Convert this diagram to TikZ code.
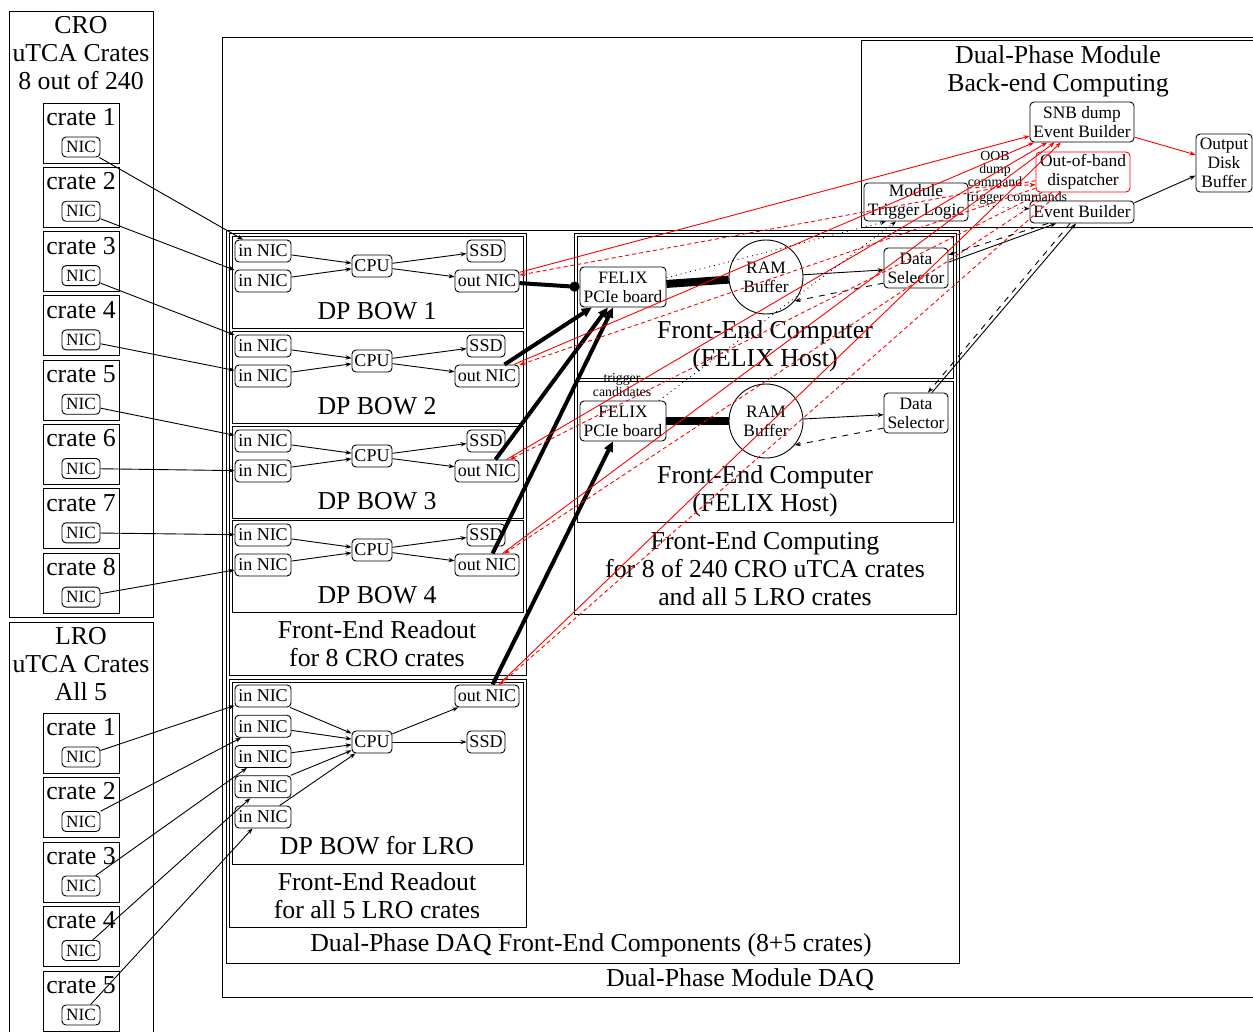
\documentclass[tikz,border=0pt]{standalone}
\usepackage{fontspec}
\setmainfont{Liberation Serif}
\usetikzlibrary{arrows.meta}
\begin{document}
\begin{tikzpicture}[x=0.5pt, y=-0.5pt, line width=0.45pt,
    big/.style={font=\fontsize{12.9}{14}\selectfont, align=center, inner sep=0pt},
    nic/.style={draw, rounded corners=2pt, inner sep=0pt, minimum width=19pt, minimum height=10pt, font=\fontsize{8.6}{9}\selectfont},
    part/.style={draw, rounded corners=2pt, inner sep=0pt, minimum height=11pt, font=\fontsize{9}{10}\selectfont},
    host/.style={draw, rounded corners=2pt, inner sep=0pt, align=center, font=\fontsize{8.7}{9.5}\selectfont},
    ram/.style={draw, circle, inner sep=0pt, minimum size=37pt, align=center, font=\fontsize{8.7}{9.5}\selectfont},
    small/.style={font=\fontsize{6.9}{6.6}\selectfont, align=center, inner sep=0pt},
    arr/.style={-{Stealth[length=3pt,width=2.2pt]}},
    fat/.style={line width=2pt, -{Triangle[length=5pt,width=4.5pt]}},
    cmd/.style={arr, red, dash pattern=on 2pt off 1.5pt}]
\useasboundingbox (0,0) rectangle (1253,1032);
% crates
\draw (9,11) rectangle (153,617);
\node[big] (cro) at (81,53) {CRO\\uTCA Crates\\8 out of 240};
\foreach \i in {1,...,8}{
  \draw (43,{103+64.3*(\i-1)}) rectangle ++(76,60);
  \node[big] (crate\i) at (81,{117+64.3*(\i-1)}) {crate \i};
  \node[nic] (c\i) at (81,{147+64.3*(\i-1)}) {NIC};
}
\draw (9,622) rectangle (153,1045);
\node[big] (lro) at (81,664) {LRO\\uTCA Crates\\All 5};
\foreach \i in {1,...,5}{
  \draw (43,{713+64.5*(\i-1)}) rectangle ++(76,60);
  \node[big] (lcrate\i) at (81,{727+64.5*(\i-1)}) {crate \i};
  \node[nic] (l\i) at (81,{757+64.5*(\i-1)}) {NIC};
}
% DAQ clusters
\draw (222,37) rectangle (1265,997);
\node[big] (daq) at (740,980) {Dual-Phase Module DAQ};
\draw (861,40) rectangle (1265,227);
\node[big] (be) at (1058,71) {Dual-Phase Module\\Back-end Computing};
\draw (226,230) rectangle (959,963);
\node[big] (fec) at (591,945) {Dual-Phase DAQ Front-End Components (8+5 crates)};
\draw (229,233) rectangle (526,675);
\node[big] (fer) at (377,644) {Front-End Readout\\for 8 CRO crates};
\draw (229,679) rectangle (526,927);
\node[big] (fel) at (377,896) {Front-End Readout\\for all 5 LRO crates};
\draw (574,233) rectangle (956,614);
\node[big] (fcomp) at (765,569) {Front-End Computing\\for 8 of 240 CRO uTCA crates\\and all 5 LRO crates};
\draw (577,236) rectangle (953,378);
\node[big] (h1) at (765,346) {Front-End Computer\\(FELIX Host)};
\draw (577,381) rectangle (953,522);
\node[big] (h2) at (765,491) {Front-End Computer\\(FELIX Host)};
% BOWs
\foreach \k/\y in {1/236,2/331,3/426,4/520}{
  \draw (232,\y) rectangle (523,{\y+92});
  \node[big] (b\k-lab) at (377,{\y+75}) {DP BOW \k};
  \node[part, minimum width=28pt] (b\k-i1) at (263,{\y+15}) {in NIC};
  \node[part, minimum width=28pt] (b\k-i2) at (263,{\y+45}) {in NIC};
  \node[part, minimum width=20pt] (b\k-cpu) at (372,{\y+30}) {CPU};
  \node[part, minimum width=19pt] (b\k-ssd) at (486,{\y+15}) {SSD};
  \node[part, minimum width=32pt] (b\k-out) at (487,{\y+45}) {out NIC};
  \draw[arr] (b\k-i1) -- (b\k-cpu); \draw[arr] (b\k-i2) -- (b\k-cpu);
  \draw[arr] (b\k-cpu) -- (b\k-ssd); \draw[arr] (b\k-cpu) -- (b\k-out);
}
\draw (232,682) rectangle (523,864);
\node[big] (lb-lab) at (377,846) {DP BOW for LRO};
\foreach \i in {1,...,5}
  \node[part, minimum width=28pt] (lb-i\i) at (263,{696+30.25*(\i-1)}) {in NIC};
\node[part, minimum width=20pt] (lb-cpu) at (372,742) {CPU};
\node[part, minimum width=19pt] (lb-ssd) at (486,742) {SSD};
\node[part, minimum width=32pt] (lb-out) at (487,696) {out NIC};
\foreach \i in {1,...,5} \draw[arr] (lb-i\i) -- (lb-cpu);
\draw[arr] (lb-cpu) -- (lb-ssd); \draw[arr] (lb-cpu) -- (lb-out);
% crate links
\foreach \c/\k/\n in {1/1/1,2/1/2,3/2/1,4/2/2,5/3/1,6/3/2,7/4/1,8/4/2}
  \draw[arr] (c\c) -- (b\k-i\n);
\foreach \i in {1,...,5} \draw[arr] (l\i) -- (lb-i\i);
% front-end computers
\foreach \k/\y/\s in {1/287/268,2/421/413}{
  \node[host, minimum width=43pt, minimum height=20pt] (fe\k) at (623,\y) {FELIX\\PCIe board};
  \node[ram] (ram\k) at (766,{\y-10*(2-\k)}) {RAM\\Buffer};
  \node[host, minimum width=32pt, minimum height=20pt] (ds\k) at (916,\s) {Data\\Selector};
  \draw[line width=4pt] (fe\k) -- (ram\k);
  \draw[arr] (ram\k) -- (ds\k);
  \draw[arr, dashed] (ds\k.205) -- (ram\k.-40);
}
% back-end
\node[host, minimum width=52pt, minimum height=20pt] (snb) at (1082,122) {SNB dump\\Event Builder};
\node[host, draw=red, minimum width=47pt, minimum height=20pt] (oob) at (1083,172) {Out-of-band\\dispatcher};
\node[host, minimum width=52pt, minimum height=11pt] (eb) at (1082,212) {Event Builder};
\node[host, minimum width=52pt, minimum height=19pt] (mtl) at (916,202) {Module\\Trigger Logic};
\node[host, minimum width=28pt, minimum height=29pt] (odb) at (1224,163) {Output\\Disk\\Buffer};
\node[small] (oobl) at (995,169) {OOB\\dump\\command};
\node[small] (tcl) at (1017,198) {trigger commands};
\node[small] (tcand) at (622,385) {trigger\\candidates};
% data paths
\draw[line width=2pt, -{Circle[length=5pt]}] (b1-out) -- (fe1.west);
\foreach \o in {b2-out,b3-out,b4-out} \draw[fat] (\o) -- (fe1);
\draw[fat] (lb-out) -- (fe2);
\foreach \o in {b1-out,b2-out,b3-out,b4-out,lb-out}{
  \draw[arr, red] (\o) -- (snb);
  \draw[cmd] (oob) -- (\o);
}
\draw[arr] (ds1.10) -- ([xshift=-13pt]eb.south);
\draw[arr, dashed] ([xshift=-17pt]eb.south) -- (ds1.22);
\draw[arr] ([xshift=8pt]ds2.north) -- ([xshift=-3pt]eb.south);
\draw[arr, dashed] ([xshift=-6pt]eb.south) -- ([xshift=6pt]ds2.north);
\draw[arr, dotted] (fe1.12) -- ([xshift=-15pt]mtl.south);
\draw[arr, dotted] ([xshift=18pt]fe2.north) -- ([xshift=-10pt]mtl.south);
\draw[arr, dotted] (mtl) -- (eb);
\draw[cmd] (mtl.15) -- (oob.195);
\draw[arr, red] (snb) -- (odb);
\draw[arr] (eb.10) -- (odb);
\end{tikzpicture}
\end{document}
